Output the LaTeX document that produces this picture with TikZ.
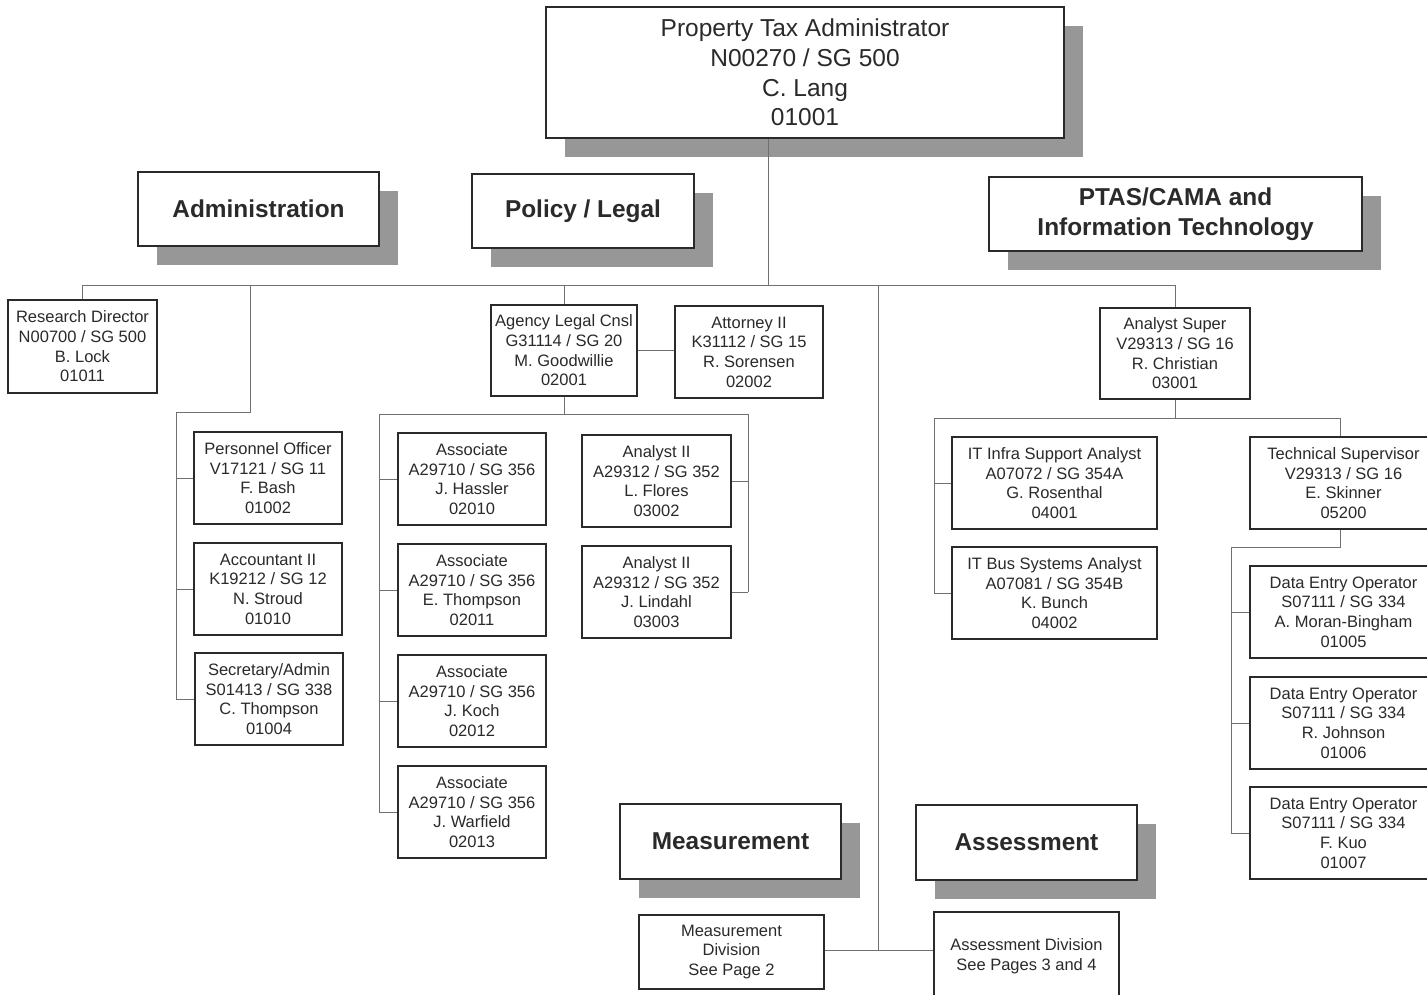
\documentclass[tikz,border=0pt]{standalone}
\usepackage{fontspec}
\setmainfont{Liberation Sans}
\usetikzlibrary{shadows}
\definecolor{inkc}{HTML}{2A2A2A}
\definecolor{linec}{HTML}{707070}
\definecolor{shadowc}{HTML}{979797}
\tikzset{
  pbox/.style={draw=inkc, line width=1.3pt, fill=white, align=center, inner sep=0pt,
    text=inkc, font=\fontsize{16.5}{19.7}\selectfont, minimum width=148pt, minimum height=92pt},
  topbox/.style={pbox, font=\fontsize{24.5}{29.7}\selectfont,
    general shadow={fill=shadowc, shadow xshift=19pt, shadow yshift=-19pt}},
  headbox/.style={pbox, font=\bfseries\fontsize{24.4}{30}\selectfont,
    general shadow={fill=shadowc, shadow xshift=19pt, shadow yshift=-19pt}},
  conn/.style={draw=linec, line width=1pt}
}
\begin{document}
\begin{tikzpicture}[x=1pt,y=-1pt]
\useasboundingbox[fill=white] (0,0) rectangle (1427,994);
% section headers
\node[topbox, minimum width=518pt, minimum height=131pt] (top) at (805,72.5)
  {Property Tax Administrator\\N00270 / SG 500\\C. Lang\\01001};
\node[headbox, minimum width=241pt, minimum height=74pt] (adm) at (258.5,209) {Administration};
\node[headbox, minimum width=222pt, minimum height=74pt] (pol) at (583,211) {Policy / Legal};
\node[headbox, minimum width=373pt, minimum height=74pt] (ptas) at (1175.5,214) {PTAS/CAMA and\\Information Technology};
\node[headbox, minimum width=221pt, minimum height=75pt] (meas) at (730.5,841.5) {Measurement};
\node[headbox, minimum width=221pt, minimum height=75pt] (asmt) at (1026.5,842.5) {Assessment};
% administration
\node[pbox, minimum width=149pt, minimum height=93pt] (rd) at (82.5,346.5) {Research Director\\N00700 / SG 500\\B. Lock\\01011};
\node[pbox] (po) at (268,478) {Personnel Officer\\V17121 / SG 11\\F. Bash\\01002};
\node[pbox] (acc) at (268,589) {Accountant II\\K19212 / SG 12\\N. Stroud\\01010};
\node[pbox] (sec) at (269,699) {Secretary/Admin\\S01413 / SG 338\\C. Thompson\\01004};
% legal
\node[pbox, minimum width=146pt, minimum height=91pt] (alc) at (564,350.5) {Agency Legal Cnsl\\G31114 / SG 20\\M. Goodwillie\\02001};
\node[pbox] (att) at (749,352) {Attorney II\\K31112 / SG 15\\R. Sorensen\\02002};
\node[pbox] (as1) at (472,479) {Associate\\A29710 / SG 356\\J. Hassler\\02010};
\node[pbox] (as2) at (472,590) {Associate\\A29710 / SG 356\\E. Thompson\\02011};
\node[pbox] (as3) at (472,701) {Associate\\A29710 / SG 356\\J. Koch\\02012};
\node[pbox] (as4) at (472,812) {Associate\\A29710 / SG 356\\J. Warfield\\02013};
\node[pbox, minimum width=149pt] (an1) at (656.5,481) {Analyst II\\A29312 / SG 352\\L. Flores\\03002};
\node[pbox, minimum width=149pt] (an2) at (656.5,592) {Analyst II\\A29312 / SG 352\\J. Lindahl\\03003};
% IT
\node[pbox, minimum width=150pt, minimum height=91pt] (asup) at (1175,353.5) {Analyst Super\\V29313 / SG 16\\R. Christian\\03001};
\node[pbox, minimum width=205pt] (it1) at (1054.5,483) {IT Infra Support Analyst\\A07072 / SG 354A\\G. Rosenthal\\04001};
\node[pbox, minimum width=205pt] (it2) at (1054.5,593) {IT Bus Systems Analyst\\A07081 / SG 354B\\K. Bunch\\04002};
\node[pbox, minimum width=187pt] (ts) at (1343.5,483) {Technical Supervisor\\V29313 / SG 16\\E. Skinner\\05200};
\node[pbox, minimum width=187pt] (de1) at (1343.5,612) {Data Entry Operator\\S07111 / SG 334\\A. Moran-Bingham\\01005};
\node[pbox, minimum width=187pt] (de2) at (1343.5,723) {Data Entry Operator\\S07111 / SG 334\\R. Johnson\\01006};
\node[pbox, minimum width=187pt] (de3) at (1343.5,833) {Data Entry Operator\\S07111 / SG 334\\F. Kuo\\01007};
% divisions
\node[pbox, minimum width=185pt, minimum height=74pt] (md) at (731.5,952) {Measurement\\Division\\See Page 2};
\node[pbox, minimum width=185pt, minimum height=88pt] (ad) at (1026.5,956) {Assessment Division\\See Pages 3 and 4};
% connectors
\coordinate (v0) at (768,285);
\coordinate (a1) at (250,285);
\coordinate (a2) at (250,412);
\coordinate (a3) at (176,412);
\coordinate (m1) at (878,285);
\coordinate (m2) at (878,950);
\coordinate (l1) at (379,414);
\coordinate (l2) at (748,414);
\coordinate (r1) at (934,418);
\coordinate (r2) at (1340,418);
\coordinate (t1) at (1340,547);
\coordinate (t2) at (1231,547);
\draw[conn] (v0 |- top.south) -- (v0);
\draw[conn] (rd.north |- v0) -- (asup.north |- v0);
\draw[conn] (rd.north) -- (rd.north |- v0);
\draw[conn] (alc.north) -- (alc.north |- v0);
\draw[conn] (asup.north) -- (asup.north |- v0);
% admin branch
\draw[conn] (a1) -- (a2) -- (a3) -- (a3 |- sec.west);
\draw[conn] (a3 |- po.west) -- (po.west);
\draw[conn] (a3 |- acc.west) -- (acc.west);
\draw[conn] (a3 |- sec.west) -- (sec.west);
% middle trunk
\draw[conn] (m1) -- (m2);
\draw[conn] (md.east |- m2) -- (ad.west |- m2);
% legal branch
\draw[conn] (alc.east) -- (alc.east -| att.west);
\draw[conn] (alc.south) -- (alc.south |- l1);
\draw[conn] (l1) -- (l2);
\draw[conn] (l1) -- (l1 |- as4.west);
\draw[conn] (l1 |- as1.west) -- (as1.west);
\draw[conn] (l1 |- as2.west) -- (as2.west);
\draw[conn] (l1 |- as3.west) -- (as3.west);
\draw[conn] (l1 |- as4.west) -- (as4.west);
\draw[conn] (l2) -- (l2 |- an2.east);
\draw[conn] (l2 |- an1.east) -- (an1.east);
\draw[conn] (l2 |- an2.east) -- (an2.east);
% IT branch
\draw[conn] (asup.south) -- (asup.south |- r1);
\draw[conn] (r1) -- (r2) -- (r2 |- ts.north);
\draw[conn] (r1) -- (r1 |- it2.west);
\draw[conn] (r1 |- it1.west) -- (it1.west);
\draw[conn] (r1 |- it2.west) -- (it2.west);
\draw[conn] (t1 |- ts.south) -- (t1) -- (t2) -- (t2 |- de3.west);
\draw[conn] (t2 |- de1.west) -- (de1.west);
\draw[conn] (t2 |- de2.west) -- (de2.west);
\draw[conn] (t2 |- de3.west) -- (de3.west);
\end{tikzpicture}
\end{document}
